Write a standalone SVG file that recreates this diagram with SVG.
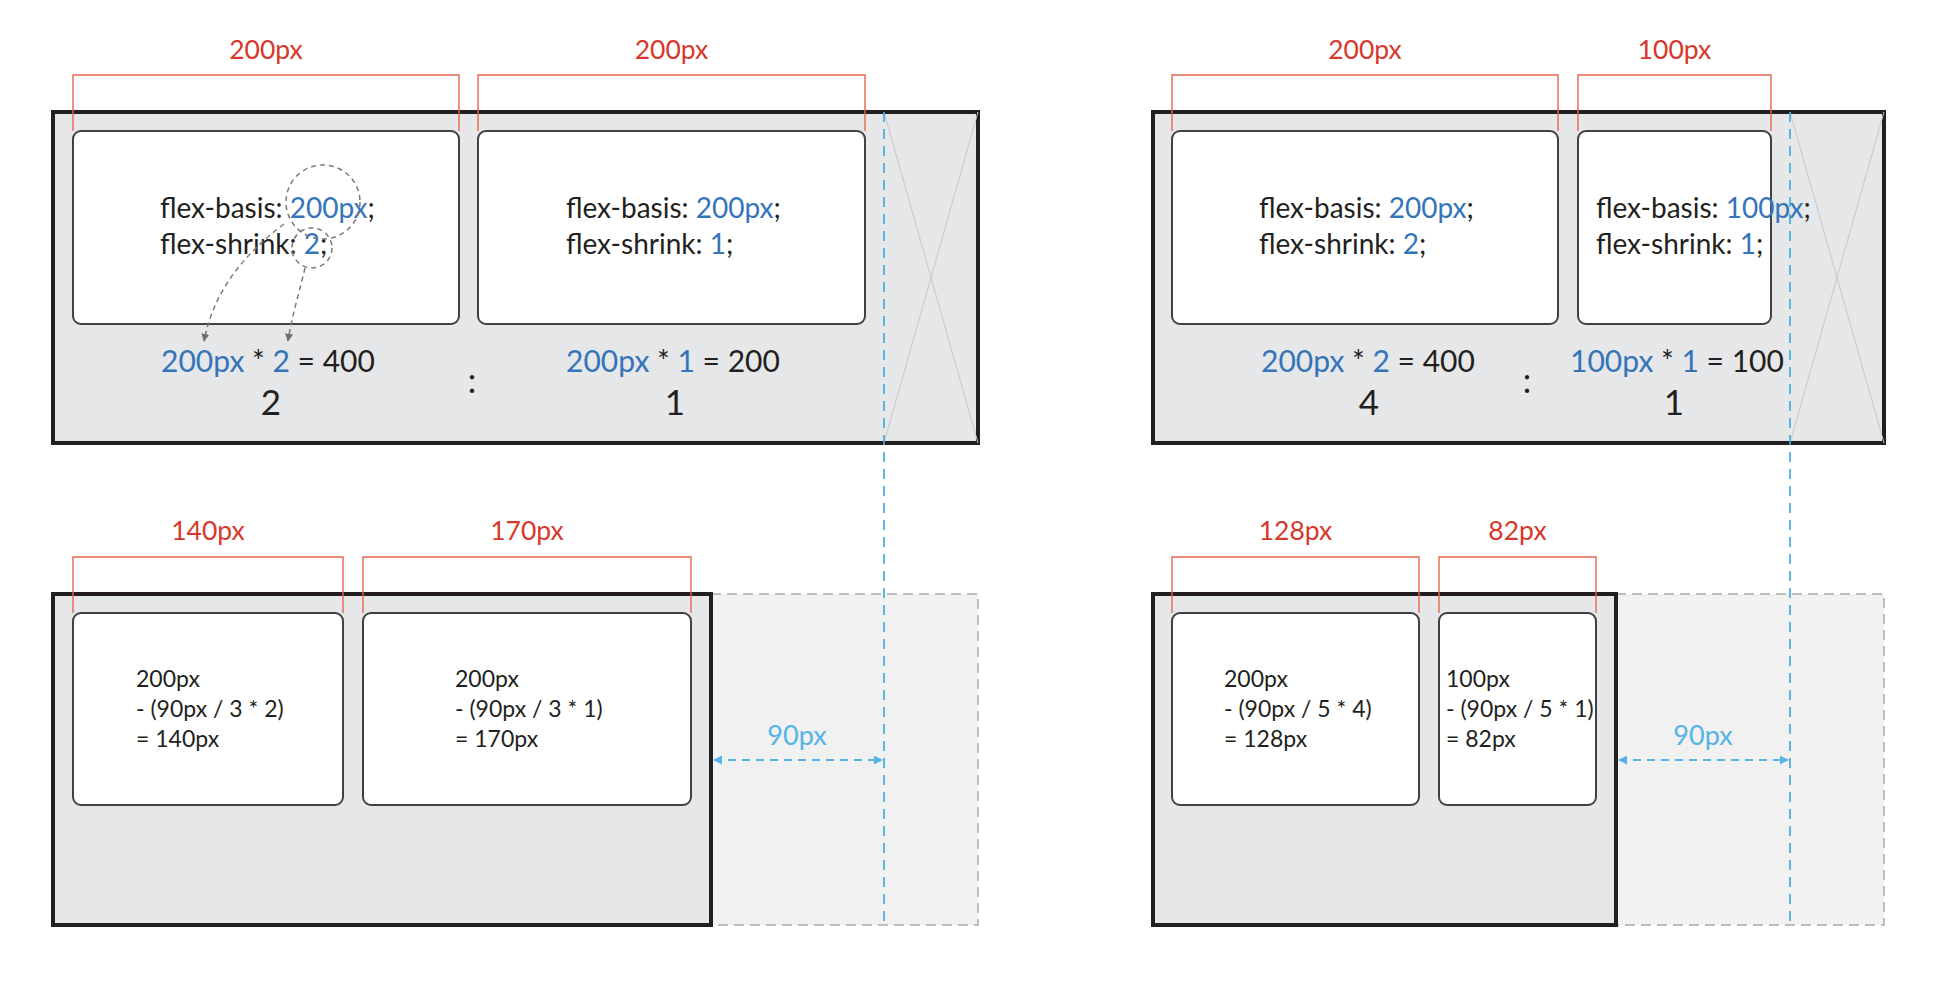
<svg xmlns="http://www.w3.org/2000/svg" width="1950" height="986" viewBox="0 0 1950 986">
<defs>
<style>
text{font-family:Lato,"Open Sans","Liberation Sans",sans-serif;fill:#231f20}
.outer{fill:#e6e7e8;stroke:#231f20;stroke-width:4}
.over{fill:#f1f1f2;stroke:#bcbec0;stroke-width:2;stroke-dasharray:10 6}
.item{fill:#fff;stroke:#414042;stroke-width:2}
.brk{fill:none;stroke:#e8654f;stroke-width:1.4}
.lbl{fill:#d7382b;font-size:26.5px;text-anchor:middle}
.code{font-size:28px}
.calc{font-size:30px}
.big{font-size:35px;text-anchor:middle}
.small{font-size:23px}
.b{fill:#3474ba}
.gap{fill:#55b4e4;font-size:27px;text-anchor:middle}
.xl{stroke:#c6c7c9;stroke-width:1;fill:none}
.guide{stroke:#3aa8dc;stroke-width:1.6;stroke-dasharray:10 7;fill:none}
.garrow{stroke:#55b4e4;stroke-width:2;stroke-dasharray:8 6;fill:none}
.curve{stroke:#7a7a7c;stroke-width:1.5;stroke-dasharray:5 4;fill:none}
</style>
<marker id="ba" viewBox="0 0 10 10" refX="9" refY="5" markerWidth="9" markerHeight="9" markerUnits="userSpaceOnUse" orient="auto-start-reverse"><path d="M0,0 L10,5 L0,10 Z" fill="#55b4e4"/></marker>
<marker id="ga" viewBox="0 0 10 10" refX="9" refY="5" markerWidth="8" markerHeight="8" markerUnits="userSpaceOnUse" orient="auto"><path d="M0,0 L10,5 L0,10 Z" fill="#6d6e71"/></marker>
</defs>
<rect width="1950" height="986" fill="#fff"/>

<!-- Top-left container -->
<g id="container-top-left">
<rect class="outer" x="53" y="112" width="925" height="331"/>
<line class="xl" x1="884" y1="112" x2="978" y2="443"/>
<line class="xl" x1="978" y1="112" x2="884" y2="443"/>
</g>
<g id="item-tl-1">
<polyline class="brk" points="73,131 73,75 459,75 459,131"/>
<text class="lbl" x="266" y="59">200px</text>
<rect class="item" x="73" y="131" width="386" height="193" rx="8"/>
<text class="code" x="160" y="218">flex-basis: <tspan class="b">200px</tspan>;</text>
<text class="code" x="160" y="254">flex-shrink: <tspan class="b">2</tspan>;</text>
<text class="calc" x="161" y="372"><tspan class="b">200px</tspan> * <tspan class="b">2</tspan> = 400</text>
<text class="big" x="271" y="415">2</text>
</g>
<g id="item-tl-2">
<polyline class="brk" points="478,131 478,75 865,75 865,131"/>
<text class="lbl" x="671.5" y="59">200px</text>
<rect class="item" x="478" y="131" width="387" height="193" rx="8"/>
<text class="code" x="566" y="218">flex-basis: <tspan class="b">200px</tspan>;</text>
<text class="code" x="566" y="254">flex-shrink: <tspan class="b">1</tspan>;</text>
<text class="calc" x="566" y="372"><tspan class="b">200px</tspan> * <tspan class="b">1</tspan> = 200</text>
<text class="big" x="675" y="415">1</text>
</g>
<text class="big" x="472" y="393" style="font-size:34px">:</text>

<!-- Top-right container -->
<g id="container-top-right">
<rect class="outer" x="1153" y="112" width="731" height="331"/>
<line class="xl" x1="1790" y1="112" x2="1884" y2="443"/>
<line class="xl" x1="1884" y1="112" x2="1790" y2="443"/>
</g>
<g id="item-tr-1">
<polyline class="brk" points="1172,131 1172,75 1558,75 1558,131"/>
<text class="lbl" x="1365" y="59">200px</text>
<rect class="item" x="1172" y="131" width="386" height="193" rx="8"/>
<text class="code" x="1259" y="218">flex-basis: <tspan class="b">200px</tspan>;</text>
<text class="code" x="1259" y="254">flex-shrink: <tspan class="b">2</tspan>;</text>
<text class="calc" x="1261" y="372"><tspan class="b">200px</tspan> * <tspan class="b">2</tspan> = 400</text>
<text class="big" x="1369" y="415">4</text>
</g>
<g id="item-tr-2">
<polyline class="brk" points="1578,131 1578,75 1771,75 1771,131"/>
<text class="lbl" x="1674.5" y="59">100px</text>
<rect class="item" x="1578" y="131" width="193" height="193" rx="8"/>
<text class="calc" x="1570" y="372"><tspan class="b">100px</tspan> * <tspan class="b">1</tspan> = 100</text>
<text class="big" x="1674" y="415">1</text>
</g>
<text class="big" x="1527" y="393" style="font-size:34px">:</text>

<!-- Bottom-left container -->
<g id="container-bottom-left">
<rect class="over" x="711" y="594" width="267" height="331"/>
<rect class="outer" x="53" y="594" width="658" height="331"/>
</g>
<g id="item-bl-1">
<polyline class="brk" points="73,613 73,557 343,557 343,613"/>
<text class="lbl" x="208" y="540">140px</text>
<rect class="item" x="73" y="613" width="270" height="192" rx="8"/>
<text class="small" x="136" y="687">200px</text>
<text class="small" x="136" y="717">- (90px / 3 * 2)</text>
<text class="small" x="136" y="747">= 140px</text>
</g>
<g id="item-bl-2">
<polyline class="brk" points="363,613 363,557 691,557 691,613"/>
<text class="lbl" x="527" y="540">170px</text>
<rect class="item" x="363" y="613" width="328" height="192" rx="8"/>
<text class="small" x="455" y="687">200px</text>
<text class="small" x="455" y="717">- (90px / 3 * 1)</text>
<text class="small" x="455" y="747">= 170px</text>
</g>

<!-- Bottom-right container -->
<g id="container-bottom-right">
<rect class="over" x="1616" y="594" width="268" height="331"/>
<rect class="outer" x="1153" y="594" width="463" height="331"/>
</g>
<g id="item-br-1">
<polyline class="brk" points="1172,613 1172,557 1419,557 1419,613"/>
<text class="lbl" x="1295.5" y="540">128px</text>
<rect class="item" x="1172" y="613" width="247" height="192" rx="8"/>
<text class="small" x="1224" y="687">200px</text>
<text class="small" x="1224" y="717">- (90px / 5 * 4)</text>
<text class="small" x="1224" y="747">= 128px</text>
</g>
<g id="item-br-2">
<polyline class="brk" points="1439,613 1439,557 1596,557 1596,613"/>
<text class="lbl" x="1517.5" y="540">82px</text>
<rect class="item" x="1439" y="613" width="157" height="192" rx="8"/>
<text class="small" x="1446" y="687">100px</text>
<text class="small" x="1446" y="717">- (90px / 5 * 1)</text>
<text class="small" x="1446" y="747">= 82px</text>
</g>

<!-- Connectors and guides -->
<g id="connectors">
<line class="guide" x1="884" y1="112" x2="884" y2="926"/>
<line class="guide" x1="1790" y1="112" x2="1790" y2="926"/>
<line class="garrow" x1="714" y1="760" x2="882" y2="760" marker-start="url(#ba)" marker-end="url(#ba)"/>
<line class="garrow" x1="1619" y1="760" x2="1788" y2="760" marker-start="url(#ba)" marker-end="url(#ba)"/>
<circle class="curve" cx="323" cy="202" r="37"/>
<circle class="curve" cx="312" cy="248" r="20"/>
<path class="curve" d="M284,224 C250,250 215,285 204,341" marker-end="url(#ga)"/>
<path class="curve" d="M305,268 C300,290 292,315 288,341" marker-end="url(#ga)"/>
</g>
<text class="gap" x="797" y="745">90px</text>
<text class="gap" x="1703" y="745">90px</text>
<text class="code" x="1596" y="218">flex-basis: <tspan class="b">100px</tspan>;</text>
<text class="code" x="1596" y="254">flex-shrink: <tspan class="b">1</tspan>;</text>
</svg>
